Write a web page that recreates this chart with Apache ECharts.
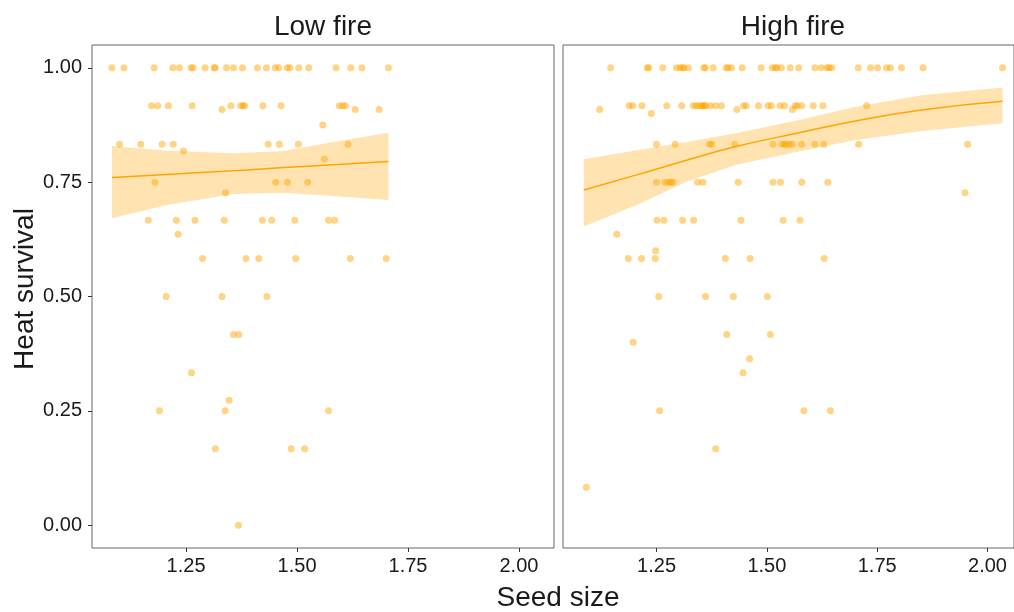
<!DOCTYPE html>
<html>
<head>
<meta charset="utf-8">
<title>Heat survival by seed size</title>
<script src="https://cdn.jsdelivr.net/npm/echarts@6/dist/echarts.min.js"></script>
<style>
  html, body { margin: 0; padding: 0; background: #fff; }
  #chart { width: 1014px; height: 612px; }
</style>
</head>
<body>
<div id="chart"></div>
<script>
const facets = ['Low fire', 'High fire']
const xTicks = [1.25, 1.5, 1.75, 2.0]
const yTicks = [0, 0.25, 0.5, 0.75, 1.0]

// seed sizes, grouped by their heat survival value
const lowFireRows = [
  [1.0, [1.083, 1.110, 1.178, 1.220, 1.235, 1.261, 1.266, 1.293, 1.313, 1.316, 1.341, 1.357, 1.377, 1.411, 1.431, 1.451, 1.459, 1.478, 1.484, 1.504, 1.526, 1.588, 1.621, 1.646, 1.706]],
  [0.917, [1.172, 1.186, 1.210, 1.264, 1.351, 1.373, 1.378, 1.382, 1.423, 1.464, 1.595, 1.603, 1.609]],
  [0.909, [1.331, 1.631, 1.685]],
  [0.875, [1.558]],
  [0.833, [1.100, 1.148, 1.196, 1.221, 1.435, 1.460, 1.503, 1.615]],
  [0.818, [1.244]],
  [0.8, [1.562]],
  [0.75, [1.180, 1.452, 1.478, 1.524]],
  [0.727, [1.339]],
  [0.667, [1.165, 1.228, 1.270, 1.336, 1.422, 1.443, 1.495, 1.571, 1.585]],
  [0.636, [1.232]],
  [0.583, [1.287, 1.385, 1.414, 1.497, 1.620, 1.701]],
  [0.5, [1.205, 1.331, 1.432]],
  [0.417, [1.357, 1.369]],
  [0.333, [1.262]],
  [0.273, [1.347]],
  [0.25, [1.190, 1.338, 1.571]],
  [0.167, [1.316, 1.487, 1.517]],
  [0.0, [1.368]]
]

const highFireRows = [
  [1.0, [1.146, 1.229, 1.232, 1.264, 1.295, 1.303, 1.309, 1.312, 1.322, 1.357, 1.361, 1.378, 1.408, 1.412, 1.420, 1.444, 1.487, 1.512, 1.519, 1.523, 1.533, 1.553, 1.572, 1.609, 1.623, 1.636, 1.641, 1.647, 1.707, 1.735, 1.751, 1.771, 1.780, 1.805, 1.854, 2.034]],
  [0.917, [1.188, 1.196, 1.217, 1.273, 1.307, 1.333, 1.340, 1.346, 1.352, 1.355, 1.358, 1.361, 1.372, 1.384, 1.397, 1.447, 1.453, 1.481, 1.503, 1.510, 1.530, 1.540, 1.564, 1.569, 1.579, 1.605, 1.627, 1.726]],
  [0.909, [1.121, 1.432, 1.558]],
  [0.9, [1.238]],
  [0.833, [1.250, 1.292, 1.370, 1.375, 1.427, 1.514, 1.534, 1.540, 1.544, 1.551, 1.558, 1.579, 1.609, 1.629, 1.708, 1.955]],
  [0.75, [1.250, 1.269, 1.276, 1.282, 1.287, 1.343, 1.355, 1.435, 1.514, 1.531, 1.579, 1.638]],
  [0.727, [1.949]],
  [0.667, [1.251, 1.267, 1.309, 1.334, 1.441, 1.537, 1.575]],
  [0.636, [1.160]],
  [0.6, [1.248]],
  [0.583, [1.186, 1.216, 1.247, 1.406, 1.462, 1.630]],
  [0.5, [1.255, 1.361, 1.424, 1.501]],
  [0.417, [1.409, 1.508]],
  [0.4, [1.197]],
  [0.364, [1.461]],
  [0.333, [1.446]],
  [0.25, [1.257, 1.584, 1.644]],
  [0.167, [1.384]],
  [0.083, [1.091]]
]

// fitted curve and confidence band
const lowFitX = [1.083, 1.207, 1.357, 1.469, 1.582, 1.706]
const lowFit = [0.760, 0.767, 0.775, 0.782, 0.788, 0.795]
const lowLower = [0.671, 0.700, 0.724, 0.727, 0.720, 0.711]
const lowUpper = [0.829, 0.819, 0.813, 0.818, 0.838, 0.858]

const highFitX = [1.085, 1.205, 1.318, 1.430, 1.573, 1.701, 1.851, 2.034]
const highFit = [0.733, 0.766, 0.798, 0.828, 0.858, 0.884, 0.908, 0.927]
const highLower = [0.653, 0.700, 0.751, 0.788, 0.817, 0.842, 0.862, 0.879]
const highUpper = [0.800, 0.820, 0.838, 0.857, 0.886, 0.915, 0.940, 0.957]

const orange = '#FFA500'
const font = 'Liberation Sans, Arial, sans-serif'

function toPoints(rows) {
  const pts = []
  rows.forEach(([y, xs]) => xs.forEach(x => pts.push([x, y])))
  return pts
}

function zip(xs, ys) {
  return xs.map((x, i) => [x, ys[i]])
}

function bandSeries(xs, lower, upper, idx) {
  return {
    type: 'custom',
    xAxisIndex: idx,
    yAxisIndex: idx,
    silent: true,
    z: 3,
    data: [[xs[0], lower[0]]],
    renderItem: function (params, api) {
      const top = xs.map((x, i) => api.coord([x, upper[i]]))
      const bottom = xs.map((x, i) => api.coord([x, lower[i]])).reverse()
      return {
        type: 'polygon',
        shape: { points: top.concat(bottom) },
        style: { fill: 'rgba(255,165,0,0.3)' }
      }
    }
  }
}

function pointSeries(rows, idx) {
  return {
    type: 'scatter',
    xAxisIndex: idx,
    yAxisIndex: idx,
    symbolSize: 7,
    z: 2,
    itemStyle: { color: 'rgba(255,165,0,0.6)' },
    data: toPoints(rows)
  }
}

function fitSeries(xs, ys, idx) {
  return {
    type: 'line',
    xAxisIndex: idx,
    yAxisIndex: idx,
    symbol: 'none',
    smooth: true,
    z: 4,
    lineStyle: { color: orange, width: 1.5 },
    data: zip(xs, ys)
  }
}

function xAxis(idx, max) {
  return {
    type: 'value',
    gridIndex: idx,
    min: 1.038,
    max: max,
    splitLine: { show: false },
    axisLine: { show: false, onZero: false },
    axisTick: { show: true, length: 4, customValues: xTicks, lineStyle: { color: '#333' } },
    axisLabel: {
      customValues: xTicks,
      margin: 8,
      fontSize: 20,
      color: '#1a1a1a',
      fontFamily: font,
      formatter: v => v.toFixed(2)
    }
  }
}

function yAxis(idx, labels) {
  return {
    type: 'value',
    gridIndex: idx,
    min: -0.05,
    max: 1.05,
    splitLine: { show: false },
    axisLine: { show: false, onZero: false },
    axisTick: { show: labels, length: 4, customValues: yTicks, lineStyle: { color: '#333' } },
    axisLabel: {
      show: labels,
      customValues: yTicks,
      margin: 10,
      fontSize: 20,
      color: '#1a1a1a',
      fontFamily: font,
      formatter: v => v.toFixed(2)
    }
  }
}

function label(text, x, y, size, rotation) {
  return {
    type: 'text',
    x: x,
    y: y,
    rotation: rotation || 0,
    style: { text: text, textAlign: 'center', textVerticalAlign: 'middle', fontSize: size, fill: '#1a1a1a', fontFamily: font }
  }
}

const chart = echarts.init(document.getElementById('chart'))

const option = {
  backgroundColor: '#fff',
  animation: false,
  grid: [
    { left: 92, top: 45, width: 462, height: 503, show: true, borderColor: '#666', borderWidth: 1 },
    { left: 563, top: 45, width: 453, height: 503, show: true, borderColor: '#666', borderWidth: 1 }
  ],
  xAxis: [xAxis(0, 2.079), xAxis(1, 2.060)],
  yAxis: [yAxis(0, true), yAxis(1, false)],
  graphic: [
    label(facets[0], 323, 27, 28),
    label(facets[1], 793, 27, 28),
    label('Heat survival', 25, 289, 28, Math.PI / 2),
    label('Seed size', 558, 598, 28)
  ],
  series: [
    pointSeries(lowFireRows, 0),
    bandSeries(lowFitX, lowLower, lowUpper, 0),
    fitSeries(lowFitX, lowFit, 0),
    pointSeries(highFireRows, 1),
    bandSeries(highFitX, highLower, highUpper, 1),
    fitSeries(highFitX, highFit, 1)
  ]
}

chart.setOption(option)
</script>
</body>
</html>
